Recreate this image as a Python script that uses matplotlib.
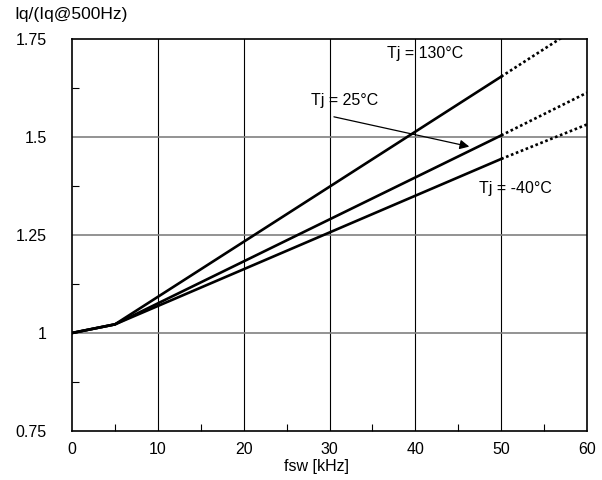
import matplotlib.pyplot as plt
from matplotlib.ticker import MultipleLocator

plt.rcParams['font.family'] = ['Liberation Sans', 'DejaVu Sans']

# frequency points (kHz)
fsw_solid = [0, 5, 50]
fsw_dot = [50, 60]

# Iq ratio curves
iq_130 = [1.0, 1.022, 1.654]
iq_130_ext = [1.654, 1.795]
iq_25 = [1.0, 1.022, 1.504]
iq_25_ext = [1.504, 1.613]
iq_m40 = [1.0, 1.022, 1.444]
iq_m40_ext = [1.444, 1.532]

yticks = [0.75, 1, 1.25, 1.5, 1.75]
ylabels = ['0.75', '1', '1.25', '1.5', '1.75']

fig = plt.figure(figsize=(6.02, 4.8), dpi=100)
ax = fig.add_axes([72/602, 49/480, 515/602, 392/480])

for y, y2 in [(iq_130, iq_130_ext), (iq_25, iq_25_ext), (iq_m40, iq_m40_ext)]:
    ax.plot(fsw_solid, y, color='black', lw=1.9, zorder=3)
    ax.plot(fsw_dot, y2, color='black', lw=1.9, ls=(0, (1, 1)), zorder=3)

ax.set_xlim(0, 60)
ax.set_ylim(0.75, 1.75)
ax.set_xticks(range(0, 61, 10))
ax.set_yticks(yticks)
ax.set_yticklabels(ylabels)
ax.xaxis.set_minor_locator(MultipleLocator(5))
ax.yaxis.set_minor_locator(MultipleLocator(0.125))

# grid
for xv in range(10, 60, 10):
    ax.axvline(xv, color='black', lw=0.8, zorder=1)
for yv in [1, 1.25, 1.5]:
    ax.axhline(yv, color='#808080', lw=1.2, zorder=1)

ax.tick_params(which='major', length=0, labelsize=11.5, colors='black')
ax.tick_params(axis='y', which='major', pad=18)
ax.tick_params(axis='x', which='major', pad=8)
ax.tick_params(which='minor', direction='in', length=5, width=0.8)
for s in ax.spines.values():
    s.set_linewidth(1.2)

ax.text(36.7, 1.713, 'Tj = 130°C', fontsize=11.5, va='center')
ax.text(27.9, 1.592, 'Tj = 25°C', fontsize=11.5, va='center')
ax.text(47.4, 1.369, 'Tj = -40°C', fontsize=11.5, va='center')
ax.annotate('', xy=(46.6, 1.474), xytext=(30.2, 1.553),
            arrowprops=dict(arrowstyle='-|>', color='black', lw=0.9,
                            mutation_scale=14))

fig.text(14/602, 1 - 15/480, 'Iq/(Iq@500Hz)', fontsize=12.5, va='center')
fig.text(317/602, 1 - 466/480, 'fsw [kHz]', fontsize=11.5, ha='center', va='center')

fig.savefig('out.png', dpi=100)
